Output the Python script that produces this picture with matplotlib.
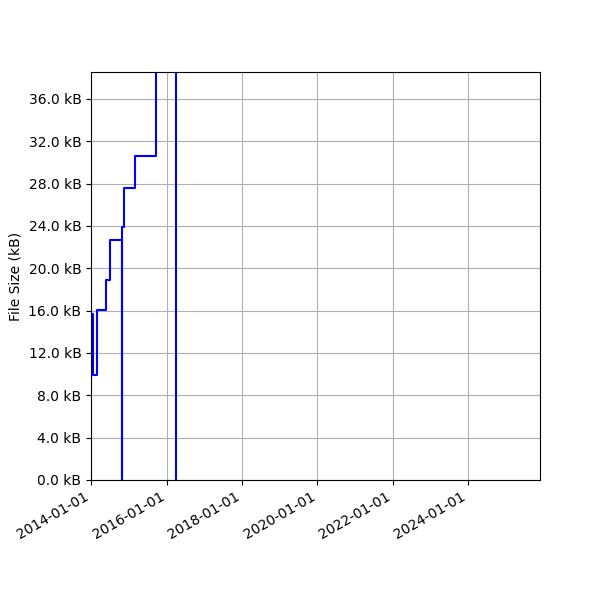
import pandas as pd
import matplotlib
matplotlib.use("Agg")
import matplotlib.pyplot as plt
import matplotlib.dates as mdates
from matplotlib.ticker import MultipleLocator, FuncFormatter

# Dates of each revision and file size (kB)
dates = ["2014-01-01", "2014-01-23", "2014-03-03", "2014-05-22", "2014-07-03",
         "2014-10-27", "2014-10-29", "2014-11-13", "2015-03-03", "2015-09-22",
         "2016-03-30"]
sizes = [15.7, 9.9, 16.1, 18.9, 22.7, 0.0, 23.9, 27.6, 30.6, 48.0, 0.0]

data = pd.DataFrame({"Date": pd.to_datetime(dates), "Size": sizes})

fig, ax = plt.subplots(figsize=(6, 6), dpi=100)
ax.step(data["Date"], data["Size"], where="post", color="blue", linewidth=1.5)

ax.set_xlim(pd.Timestamp("2014-01-01"), pd.Timestamp("2025-11-28"))
ax.set_ylim(0, 38.55)
ax.yaxis.set_major_locator(MultipleLocator(4))
ax.yaxis.set_major_formatter(FuncFormatter(lambda v, p: "%.1f kB" % v))
ax.xaxis.set_major_locator(mdates.YearLocator(2))
ax.xaxis.set_major_formatter(mdates.DateFormatter("%Y-%m-%d"))
ax.set_ylabel("File Size (kB)")
ax.grid(True)

fig.autofmt_xdate()
fig.subplots_adjust(left=0.152)
plt.savefig("out.png")
